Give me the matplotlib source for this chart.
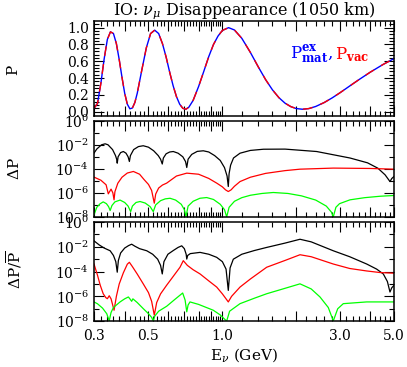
import matplotlib
matplotlib.use('Agg')
import matplotlib.pyplot as plt
import numpy as np
from matplotlib.ticker import FixedLocator, FixedFormatter, NullFormatter

plt.rcParams['font.family'] = ['DejaVu Serif']
plt.rcParams['mathtext.fontset'] = 'dejavuserif'

# ---- top panel: survival probability ----
e_p = [0.30, 0.31, 0.32, 0.33, 0.34, 0.35, 0.36, 0.37, 0.38, 0.39, 0.40, 0.41, 0.42,
       0.43, 0.44, 0.45, 0.47, 0.49, 0.51, 0.53, 0.55, 0.57, 0.59, 0.61, 0.63, 0.65,
       0.67, 0.69, 0.71, 0.73, 0.76, 0.80, 0.84, 0.88, 0.92, 0.96, 1.00, 1.06, 1.12,
       1.20, 1.30, 1.40, 1.50, 1.60, 1.70, 1.80, 1.90, 2.00, 2.12, 2.25, 2.40, 2.60,
       2.80, 3.00, 3.30, 3.60, 4.00, 4.50, 5.00]
p_mat = [0.04, 0.10, 0.34, 0.63, 0.86, 0.95, 0.93, 0.81, 0.62, 0.41, 0.22, 0.09, 0.035,
         0.045, 0.11, 0.22, 0.50, 0.76, 0.93, 0.97, 0.93, 0.81, 0.65, 0.47, 0.31, 0.18,
         0.09, 0.041, 0.03, 0.054, 0.135, 0.30, 0.48, 0.656, 0.80, 0.90, 0.967, 1.0, 0.972,
         0.873, 0.706, 0.534, 0.382, 0.26, 0.167, 0.102, 0.061, 0.038, 0.03, 0.038, 0.063, 0.11,
         0.165, 0.222, 0.306, 0.382, 0.47, 0.56, 0.632]
p_vac = p_mat

# ---- middle panel: Delta P (log10 values) ----
e_dp_k = [0.300, 0.308, 0.322, 0.333, 0.342, 0.357, 0.367, 0.371, 0.373, 0.376, 0.385,
          0.395, 0.405, 0.413, 0.418, 0.422, 0.435, 0.455, 0.476, 0.500, 0.525, 0.548,
          0.560, 0.569, 0.575, 0.590, 0.610, 0.631, 0.660, 0.690, 0.708, 0.716, 0.725,
          0.750, 0.790, 0.836, 0.880, 0.930, 0.980, 1.020, 1.045, 1.057, 1.065, 1.080,
          1.110, 1.180, 1.300, 1.470, 1.800, 2.420, 3.310, 3.900, 4.300, 4.600, 4.816,
          4.900, 5.000]
dp_k = [-2.69, -2.35, -2.0, -1.92, -2.0, -2.4, -2.9, -3.2, -3.53, -3.0, -2.65,
        -2.56, -2.7, -3.0, -3.39, -2.9, -2.4, -2.15, -2.08, -2.2, -2.5, -2.9,
        -3.2, -3.6, -3.1, -2.75, -2.6, -2.56, -2.7, -3.0, -3.4, -3.89, -3.2,
        -2.8, -2.55, -2.5, -2.6, -2.9, -3.3, -3.9, -4.6, -5.47, -4.4, -3.7,
        -3.1, -2.7, -2.47, -2.37, -2.36, -2.56, -3.1, -3.5, -3.95, -4.5, -5.06,
        -4.8, -4.64]
e_dp_r = [0.300, 0.320, 0.336, 0.343, 0.352, 0.358, 0.362, 0.365, 0.375, 0.390, 0.410,
          0.434, 0.460, 0.480, 0.500, 0.515, 0.528, 0.535, 0.550, 0.570, 0.593, 0.650,
          0.716, 0.800, 0.880, 0.950, 1.000, 1.030, 1.057, 1.085, 1.120, 1.180, 1.300,
          1.500, 1.800, 2.070, 2.830, 4.000, 5.000]
dp_r = [-4.69, -4.95, -5.33, -6.08, -5.69, -6.0, -6.58, -5.9, -5.2, -4.7, -4.35,
        -4.22, -4.45, -4.9, -5.3, -5.8, -6.86, -6.1, -5.6, -5.35, -5.19, -4.6,
        -4.36, -4.45, -4.8, -5.2, -5.5, -5.75, -5.89, -5.75, -5.45, -5.06, -4.7,
        -4.38, -4.15, -4.03, -3.94, -3.97, -4.03]
e_dp_g = [0.300, 0.308, 0.317, 0.327, 0.337, 0.344, 0.349, 0.355, 0.365, 0.383, 0.400,
          0.413, 0.423, 0.430, 0.445, 0.462, 0.485, 0.508, 0.523, 0.535, 0.560, 0.585,
          0.612, 0.645, 0.680, 0.700, 0.711, 0.725, 0.760, 0.810, 0.863, 0.920, 0.980,
          1.020, 1.041, 1.065, 1.120, 1.200, 1.300, 1.450, 1.612, 1.850, 2.100, 2.400,
          2.650, 2.780, 2.830, 2.900, 3.000, 3.310, 3.800, 4.400, 5.000]
dp_g = [-7.83, -7.2, -6.92, -6.75, -6.9, -7.15, -7.47, -7.05, -6.75, -6.6, -6.8,
        -7.1, -7.56, -7.1, -6.8, -6.72, -6.85, -7.15, -7.56, -7.0, -6.65, -6.5,
        -6.45, -6.6, -6.95, -7.4, -7.97, -7.1, -6.7, -6.45, -6.39, -6.55, -6.95,
        -7.4, -8.0, -7.2, -6.7, -6.4, -6.2, -6.05, -5.97, -6.05, -6.25, -6.6,
        -7.1, -7.6, -8.0, -7.2, -6.9, -6.58, -6.4, -6.28, -6.22]

# ---- bottom panel: Delta P / Pbar (log10 values) ----
e_rel_k = [0.300, 0.315, 0.330, 0.349, 0.360, 0.368, 0.373, 0.377, 0.385, 0.400, 0.415,
           0.427, 0.440, 0.460, 0.492, 0.520, 0.545, 0.560, 0.569, 0.578, 0.600, 0.631,
           0.660, 0.683, 0.700, 0.712, 0.716, 0.722, 0.740, 0.811, 0.880, 0.948, 1.000,
           1.035, 1.057, 1.075, 1.108, 1.200, 1.350, 1.515, 1.800, 2.071, 2.300, 2.830,
           3.300, 3.871, 4.250, 4.523, 4.700, 4.816, 4.900, 5.000]
rel_k = [-1.52, -1.85, -2.1, -2.32, -2.7, -3.2, -4.05, -3.1, -2.5, -2.1, -1.9,
         -1.79, -1.95, -2.15, -2.32, -2.6, -3.0, -3.5, -4.19, -3.2, -2.6, -2.3,
         -2.05, -1.92, -2.15, -2.6, -2.99, -2.7, -2.55, -2.45, -2.6, -2.85, -3.2,
         -3.8, -5.52, -3.7, -3.0, -2.6, -2.3, -2.05, -1.7, -1.39, -1.6, -2.32,
         -2.8, -3.39, -3.8, -4.19, -4.8, -5.65, -5.3, -5.12]
e_rel_r = [0.300, 0.310, 0.318, 0.327, 0.335, 0.340, 0.346, 0.352, 0.362, 0.370, 0.380,
           0.395, 0.410, 0.418, 0.430, 0.450, 0.476, 0.500, 0.515, 0.528, 0.540, 0.560,
           0.593, 0.630, 0.672, 0.693, 0.720, 0.760, 0.811, 0.880, 0.948, 1.000, 1.035,
           1.057, 1.090, 1.180, 1.300, 1.515, 1.800, 2.071, 2.300, 2.830, 3.300, 3.871,
           4.400, 5.000]
rel_r = [-3.39, -4.3, -5.1, -5.79, -6.1, -6.19, -5.95, -6.2, -7.12, -6.0, -5.0,
         -4.1, -3.4, -3.25, -3.6, -4.2, -4.99, -5.7, -6.4, -7.52, -6.5, -5.8,
         -5.1, -4.4, -3.65, -3.12, -3.5, -3.85, -4.19, -4.75, -5.25, -5.8, -6.2,
         -6.45, -6.0, -5.25, -4.6, -3.65, -3.1, -2.64, -2.8, -3.39, -3.75, -3.95,
         -4.08, -4.13]
e_rel_g = [0.300, 0.310, 0.325, 0.338, 0.346, 0.352, 0.360, 0.383, 0.400, 0.414, 0.420,
           0.427, 0.432, 0.450, 0.476, 0.500, 0.515, 0.523, 0.530, 0.550, 0.593, 0.640,
           0.689, 0.705, 0.716, 0.725, 0.738, 0.800, 0.918, 0.980, 1.041, 1.070, 1.180,
           1.350, 1.515, 1.800, 2.071, 2.300, 2.498, 2.700, 2.830, 2.950, 3.108, 3.871,
           5.000]
rel_g = [-6.45, -6.6, -6.95, -7.4, -7.98, -7.3, -6.9, -6.45, -6.2, -6.05, -6.2,
         -6.4, -6.2, -6.5, -6.99, -7.4, -7.7, -8.0, -7.6, -7.2, -6.8, -6.25,
         -5.73, -6.3, -7.25, -6.7, -6.45, -6.65, -7.12, -7.5, -8.0, -7.2, -6.59,
         -6.15, -5.79, -5.35, -4.99, -5.4, -6.05, -6.9, -7.98, -7.0, -6.59, -6.45,
         -6.45]

xmajor = [0.3, 0.4, 0.5, 0.6, 0.7, 0.8, 0.9, 1.0, 2.0, 3.0, 4.0, 5.0]
xlabels = ['0.3', '', '0.5', '', '', '', '', '1.0', '', '3.0', '', '5.0']
xminor = [0.32, 0.34, 0.36, 0.38, 0.42, 0.44, 0.46, 0.48, 0.52, 0.54, 0.56, 0.58,
          0.62, 0.64, 0.66, 0.68, 0.72, 0.74, 0.76, 0.78, 0.82, 0.84, 0.86, 0.88,
          0.92, 0.94, 0.96, 0.98, 1.2, 1.4, 1.6, 1.8, 2.2, 2.4, 2.6, 2.8,
          3.2, 3.4, 3.6, 3.8, 4.2, 4.4, 4.6, 4.8]

fig = plt.figure(figsize=(4.07, 3.67), dpi=100)
ax1 = fig.add_axes([0.231, 0.684, 0.737, 0.259])
ax2 = fig.add_axes([0.231, 0.409, 0.737, 0.262])
ax3 = fig.add_axes([0.231, 0.125, 0.737, 0.270])


def style_x(ax, show):
    ax.set_xscale('log')
    ax.set_xlim(0.3, 5.0)
    ax.xaxis.set_major_locator(FixedLocator(xmajor))
    ax.xaxis.set_minor_locator(FixedLocator(xminor))
    if show:
        ax.xaxis.set_major_formatter(FixedFormatter(xlabels))
    else:
        ax.xaxis.set_major_formatter(NullFormatter())
    ax.xaxis.set_minor_formatter(NullFormatter())
    ax.tick_params(which='both', direction='in', top=True, right=True, labelsize=10, width=0.8)
    ax.tick_params(which='major', length=7)
    ax.tick_params(which='minor', length=3.5)
    ax.tick_params(axis='x', pad=6)
    for s in ax.spines.values():
        s.set_linewidth(1.1)


# top panel
ax1.plot(e_p, p_mat, color='#0000ff', lw=1.0)
ax1.plot(e_p, p_vac, color='#ff0000', lw=1.0, dashes=(7, 6))
style_x(ax1, False)
ax1.set_ylim(-0.05, 1.08)
ax1.yaxis.set_major_locator(FixedLocator([0.0, 0.2, 0.4, 0.6, 0.8, 1.0]))
ax1.yaxis.set_major_formatter(FixedFormatter(['0.0', '0.2', '0.4', '0.6', '0.8', '1.0']))
ax1.yaxis.set_minor_locator(FixedLocator(np.arange(0.0, 1.05, 0.04)))
ax1.set_title(r'IO: $\nu_\mu$ Disappearance (1050 km)', fontsize=11.5, pad=1)
ax1.text(0.655, 0.60, r'$\mathrm{P}^{\mathbf{ex}}_{\mathbf{mat}},$', color='#0000ff',
         transform=ax1.transAxes, fontsize=12)
ax1.text(0.805, 0.60, r'$\mathrm{P}_{\mathbf{vac}}$', color='#ff0000',
         transform=ax1.transAxes, fontsize=12)

# middle and bottom panels
for ax, curves, show in [
        (ax2, [(e_dp_k, dp_k, 'black'), (e_dp_r, dp_r, '#ff0000'), (e_dp_g, dp_g, '#00ff00')], False),
        (ax3, [(e_rel_k, rel_k, 'black'), (e_rel_r, rel_r, '#ff0000'), (e_rel_g, rel_g, '#00ff00')], True)]:
    for e, v, c in curves:
        ax.plot(e, 10.0 ** np.array(v), color=c, lw=0.9)
    style_x(ax, show)
    ax.set_yscale('log')
    ax.set_ylim(1e-8, 1.0)
    ax.yaxis.set_major_locator(FixedLocator([1e-8, 1e-6, 1e-4, 1e-2, 1e0]))
    ax.yaxis.set_major_formatter(FixedFormatter([r'$10^{-8}$', r'$10^{-6}$', r'$10^{-4}$',
                                                 r'$10^{-2}$', r'$10^{0}$']))
    ax.yaxis.set_minor_locator(FixedLocator([1e-7, 1e-5, 1e-3, 1e-1]))
    ax.yaxis.set_minor_formatter(NullFormatter())

ax3.set_xlabel(r'E$_\nu$ (GeV)', fontsize=11, labelpad=2)

fig.text(0.032, 0.81, 'P', rotation=90, ha='center', va='center', fontsize=11)
fig.text(0.035, 0.54, r'$\Delta$P', rotation=90, ha='center', va='center', fontsize=11)
fig.text(0.035, 0.265, r'$\Delta\mathrm{P}/\overline{\mathrm{P}}$', rotation=90,
         ha='center', va='center', fontsize=11)

fig.savefig('out.png', dpi=100)
